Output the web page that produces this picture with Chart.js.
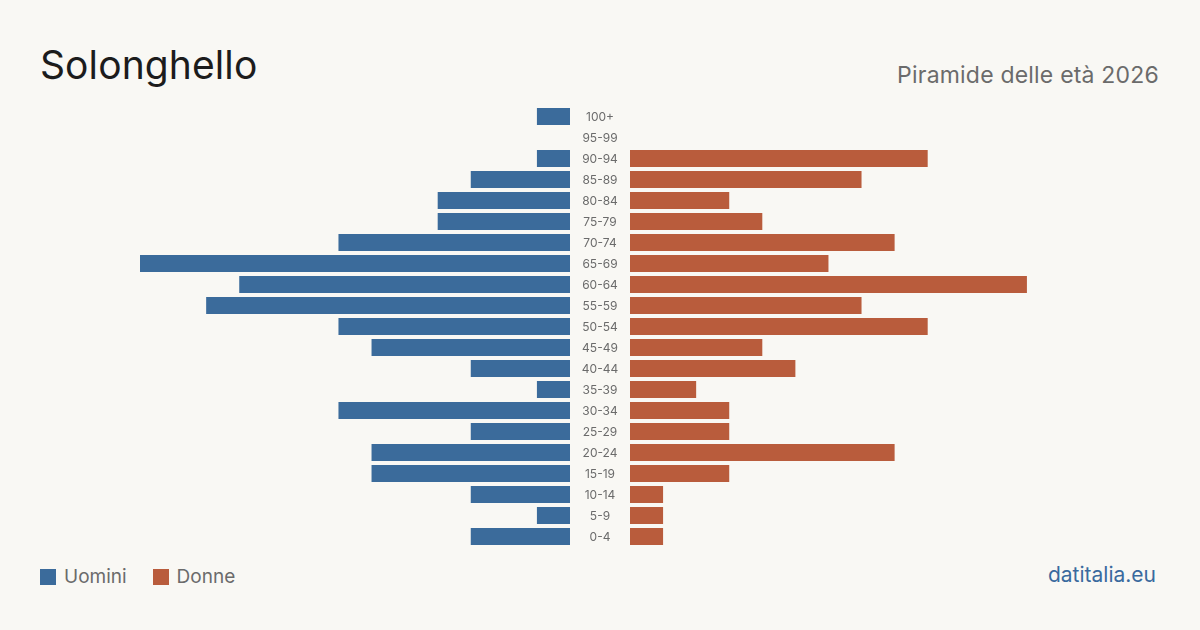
<!DOCTYPE html>
<html>
<head>
<meta charset="utf-8">
<script src="https://cdn.jsdelivr.net/npm/chart.js@4"></script>
<style>
  html, body { margin: 0; padding: 0; }
  body { width: 1200px; height: 630px; background: #f9f8f4; position: relative; overflow: hidden; font-family: Inter, "Noto Sans", sans-serif; }
  .title { position: absolute; left: 40px; top: 41px; font-size: 39px; color: #1c1c1c; letter-spacing: 0.1px; }
  .subtitle { position: absolute; right: 41px; top: 61px; font-size: 23px; color: #6b6b6b; letter-spacing: 0.2px; }
  #leftWrap { position: absolute; left: 140px; top: 106px; }
  #rightWrap { position: absolute; left: 630px; top: 106px; }
  .legend { position: absolute; left: 40px; top: 565px; font-size: 19px; color: #6b6b6b; display: flex; align-items: center; }
  .legend span.box { display: inline-block; width: 16px; height: 16px; margin-right: 8px; }
  .legend .item { display: flex; align-items: center; margin-right: 26px; }
  .footer { position: absolute; right: 44px; top: 562px; font-size: 21px; color: #3a6a9e; }
</style>
</head>
<body>
<div class="title">Solonghello</div>
<div class="subtitle">Piramide delle età 2026</div>
<div id="leftWrap"><canvas id="menChart" width="490" height="441"></canvas></div>
<div id="rightWrap"><canvas id="womenChart" width="430" height="441"></canvas></div>
<div class="legend">
  <div class="item"><span class="box" style="background:#3b6b9b"></span>Uomini</div>
  <div class="item"><span class="box" style="background:#b95c3c"></span>Donne</div>
</div>
<div class="footer">datitalia.eu</div>

<script>
// fasce d'età dall'alto verso il basso
const ageGroups = ['100+', '95-99', '90-94', '85-89', '80-84', '75-79', '70-74', '65-69', '60-64', '55-59',
  '50-54', '45-49', '40-44', '35-39', '30-34', '25-29', '20-24', '15-19', '10-14', '5-9', '0-4'];
const men   = [1, 0, 1, 3, 4, 4, 7, 13, 10, 11, 7, 6, 3, 1, 7, 3, 6, 6, 3, 1, 3];
const women = [0, 0, 9, 7, 3, 4, 8, 6, 12, 7, 9, 4, 5, 2, 3, 3, 8, 3, 1, 1, 1];

const maxValue = Math.max(...men, ...women);
const blue = '#3b6b9b';
const orange = '#b95c3c';

// etichette al centro, tra le due metà
const centerLabels = {
  id: 'centerLabels',
  afterDraw(chart) {
    const { ctx, chartArea, scales } = chart;
    ctx.save();
    ctx.fillStyle = '#6b6b6b';
    ctx.font = '12px Inter, "Noto Sans", sans-serif';
    ctx.textAlign = 'center';
    ctx.textBaseline = 'middle';
    ageGroups.forEach((label, i) => {
      ctx.fillText(label, chartArea.right + 30, scales.y.getPixelForValue(i) + 1);
    });
    ctx.restore();
  }
};

function baseOptions(reverse, padRight) {
  return {
    indexAxis: 'y',
    responsive: false,
    animation: false,
    layout: { padding: { left: 0, right: padRight, top: 0, bottom: 0 } },
    scales: {
      x: { display: false, min: 0, max: maxValue, reverse: reverse },
      y: { display: false }
    },
    plugins: {
      legend: { display: false },
      tooltip: { enabled: false }
    }
  };
}

new Chart(document.getElementById('menChart').getContext('2d'), {
  type: 'bar',
  data: {
    labels: ageGroups,
    datasets: [{
      label: 'Uomini',
      data: men,
      backgroundColor: blue,
      borderWidth: 0,
      barPercentage: 0.81,
      categoryPercentage: 1
    }]
  },
  options: baseOptions(true, 60),
  plugins: [centerLabels]
});

new Chart(document.getElementById('womenChart').getContext('2d'), {
  type: 'bar',
  data: {
    labels: ageGroups,
    datasets: [{
      label: 'Donne',
      data: women,
      backgroundColor: orange,
      borderWidth: 0,
      barPercentage: 0.81,
      categoryPercentage: 1
    }]
  },
  options: baseOptions(false, 0)
});
</script>
</body>
</html>
